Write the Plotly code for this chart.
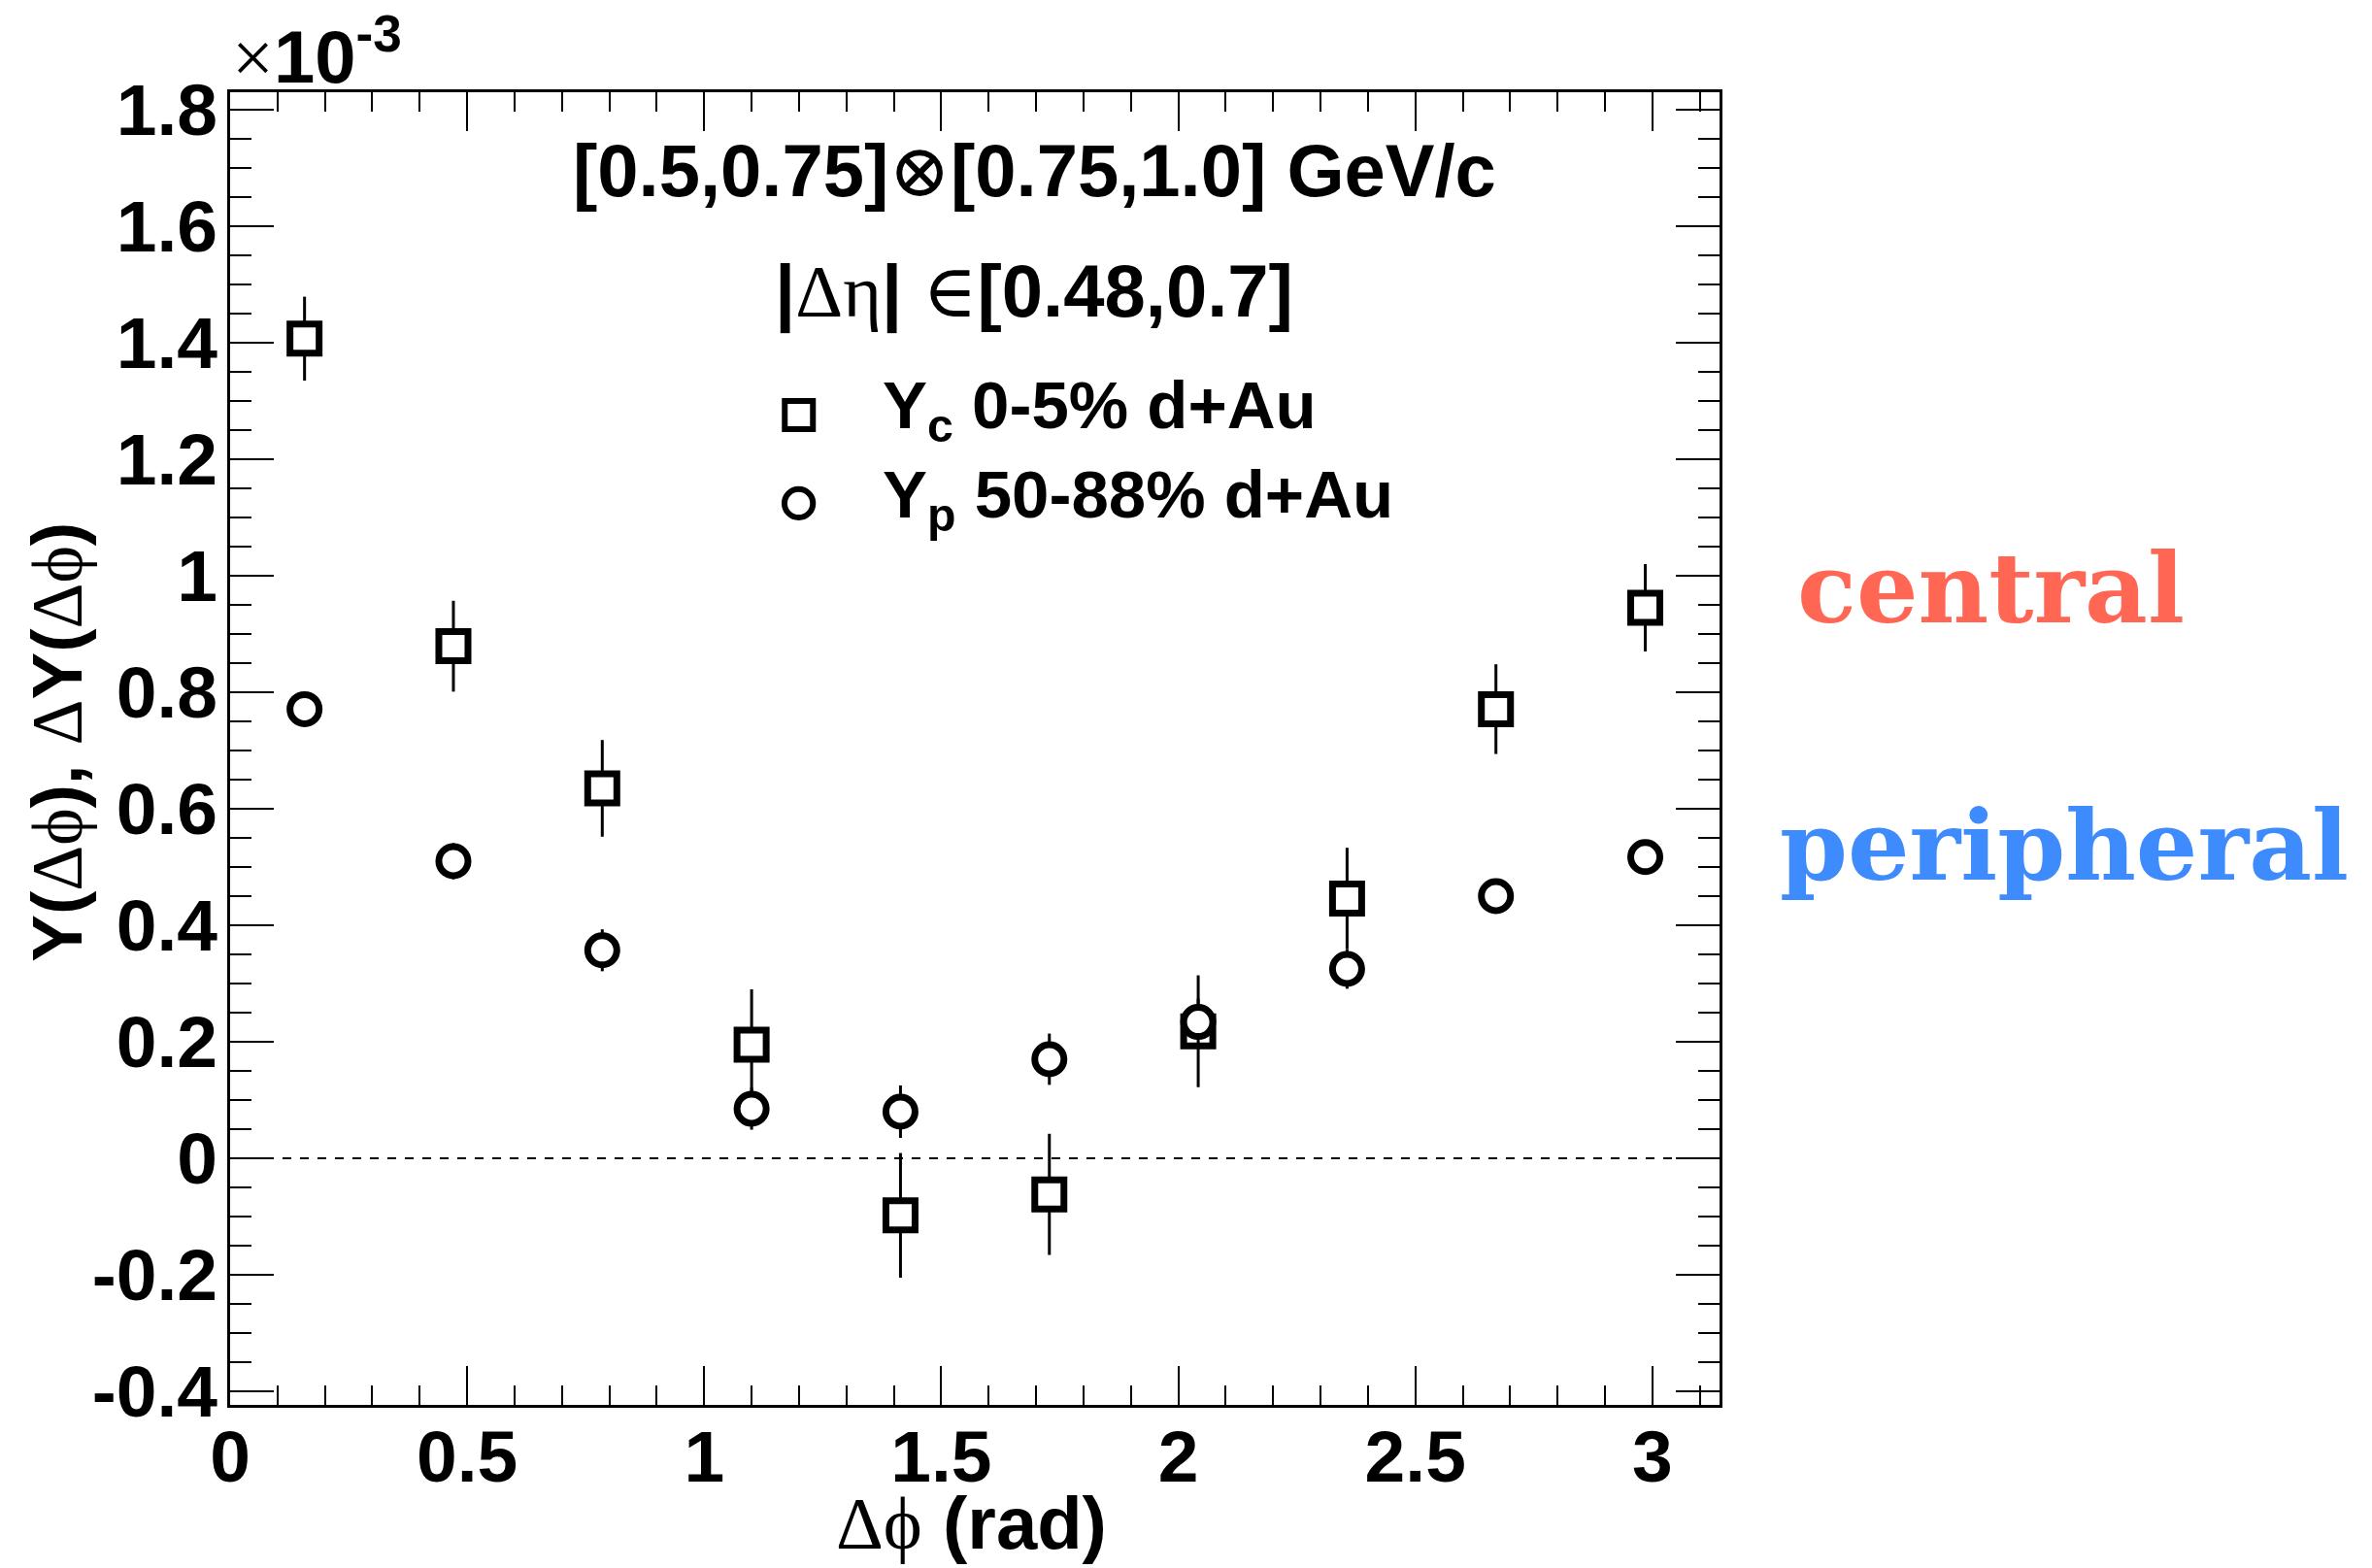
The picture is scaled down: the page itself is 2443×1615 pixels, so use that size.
import plotly.graph_objects as go

# ---- data (values in units of 1e-3) ----
dphi = [0.157, 0.471, 0.785, 1.100, 1.414, 1.728, 2.042, 2.356, 2.670, 2.985]
yc_central = [1.407, 0.879, 0.635, 0.195, -0.098, -0.062, 0.218, 0.446, 0.771, 0.945]
yc_err = [0.072, 0.078, 0.083, 0.095, 0.107, 0.104, 0.096, 0.087, 0.077, 0.075]
yp_peripheral = [0.771, 0.510, 0.357, 0.085, 0.080, 0.170, 0.234, 0.325, 0.450, 0.517]
yp_err = [0.020, 0.031, 0.036, 0.036, 0.045, 0.044, 0.040, 0.034, 0.022, 0.022]

x_tickvals = [0, 0.5, 1, 1.5, 2, 2.5, 3]
x_ticktext = ["0", "0.5", "1", "1.5", "2", "2.5", "3"]
y_tickvals = [-0.4, -0.2, 0, 0.2, 0.4, 0.6, 0.8, 1.0, 1.2, 1.4, 1.6, 1.8]
y_ticktext = ["-0.4", "-0.2", "0", "0.2", "0.4", "0.6", "0.8", "1", "1.2", "1.4", "1.6", "1.8"]

x_range = [0, 3.1416]
y_range = [-0.4234, 1.83]

SANS = "Liberation Sans"
SERIF_SPAN = '<span style="font-family:Liberation Serif, DejaVu Serif;font-weight:normal">'
PHI = "\u03d5"

fig = go.Figure()

fig.add_trace(go.Scatter(
    x=dphi, y=yc_central, mode="markers", name="Y<sub>c</sub> 0-5% d+Au",
    marker=dict(symbol="square", size=30, color="white",
                line=dict(color="black", width=7)),
    error_y=dict(type="data", array=yc_err, width=0, thickness=3, color="black"),
    showlegend=False,
))
fig.add_trace(go.Scatter(
    x=dphi, y=yp_peripheral, mode="markers", name="Y<sub>p</sub> 50-88% d+Au",
    marker=dict(symbol="circle", size=30, color="white",
                line=dict(color="black", width=7)),
    error_y=dict(type="data", array=yp_err, width=0, thickness=3, color="black"),
    showlegend=False,
))

# zero reference line
fig.add_shape(type="line", xref="x", yref="y", x0=x_range[0], x1=x_range[1],
              y0=0, y1=0, line=dict(color="black", width=2, dash="9px,9px"),
              layer="below")

# legend symbols (drawn in paper coordinates)
fig.add_shape(type="rect", xref="paper", yref="paper",
              x0=0.3724, x1=0.3913, y0=0.7433, y1=0.7648,
              line=dict(color="black", width=6), fillcolor="white")
fig.add_shape(type="circle", xref="paper", yref="paper",
              x0=0.3722, x1=0.3913, y0=0.6760, y1=0.6977,
              line=dict(color="black", width=6), fillcolor="white")

bold = dict(family=SANS, size=76, color="black", weight="bold")
legend_font = dict(family=SANS, size=69, color="black", weight="bold")

annotations = [
    dict(text="[0.5,0.75]" + SERIF_SPAN + "⊗</span>[0.75,1.0] GeV/c",
         x=0.540, y=0.9404, xanchor="center", yanchor="middle", font=bold),
    dict(text="|" + SERIF_SPAN + "Δη</span>| " + SERIF_SPAN + "∈</span>[0.48,0.7]",
         x=0.540, y=0.848, xanchor="center", yanchor="middle", font=bold),
    dict(text="Y<sub>c</sub> 0-5% d+Au", x=0.4368, y=0.758,
         xanchor="left", yanchor="middle", font=legend_font),
    dict(text="Y<sub>p</sub> 50-88% d+Au", x=0.4368, y=0.690,
         xanchor="left", yanchor="middle", font=legend_font),
    dict(text=SERIF_SPAN + "×</span>10<sup>-3</sup>", x=0.0, y=1.031,
         xanchor="left", yanchor="middle", font=bold),
    dict(text=SERIF_SPAN + "Δ" + PHI + "</span> (rad)", x=0.498, y=-0.090,
         xanchor="center", yanchor="middle", font=bold),
    dict(text="Y(" + SERIF_SPAN + "Δ" + PHI + "</span>), " + SERIF_SPAN + "Δ</span>Y("
         + SERIF_SPAN + "Δ" + PHI + "</span>)",
         x=-0.1157, y=0.505, xanchor="center", yanchor="middle", textangle=-90,
         font=dict(family=SANS, size=73, color="black", weight="bold")),
]
for a in annotations:
    a.update(xref="paper", yref="paper", showarrow=False)
    fig.add_annotation(**a)

fig.add_annotation(text="central", xref="paper", yref="paper", x=1.1825, y=0.622,
                   xanchor="center", yanchor="middle", showarrow=False,
                   font=dict(family="DejaVu Serif", size=100, color="#FF6654", weight="bold"))
fig.add_annotation(text="peripheral", xref="paper", yref="paper", x=1.2314, y=0.426,
                   xanchor="center", yanchor="middle", showarrow=False,
                   font=dict(family="DejaVu Serif", size=100, color="#3D8BFD", weight="bold"))

axis_common = dict(
    showgrid=False, zeroline=False, showline=True, linecolor="black", linewidth=3,
    mirror="allticks", ticks="inside", tickcolor="black", tickwidth=2,
    tickfont=dict(family=SANS, size=75, color="black", weight="bold"),
)

fig.update_xaxes(range=x_range, tickmode="array", tickvals=x_tickvals,
                 ticktext=x_ticktext, ticklen=40, ticklabelstandoff=-14,
                 minor=dict(ticks="inside", ticklen=20, dtick=0.1, tick0=0,
                            tickcolor="black", tickwidth=2),
                 **axis_common)
fig.update_yaxes(range=y_range, tickmode="array", tickvals=y_tickvals,
                 ticktext=y_ticktext, ticklen=45, ticklabelstandoff=-5,
                 minor=dict(ticks="inside", ticklen=22, dtick=0.05, tick0=0,
                            tickcolor="black", tickwidth=2),
                 **axis_common)

fig.update_layout(
    width=2443, height=1615, autosize=False,
    margin=dict(l=237, r=672, t=95, b=168, pad=0),
    paper_bgcolor="white", plot_bgcolor="white",
    showlegend=False,
)

fig.write_html("out.html")
